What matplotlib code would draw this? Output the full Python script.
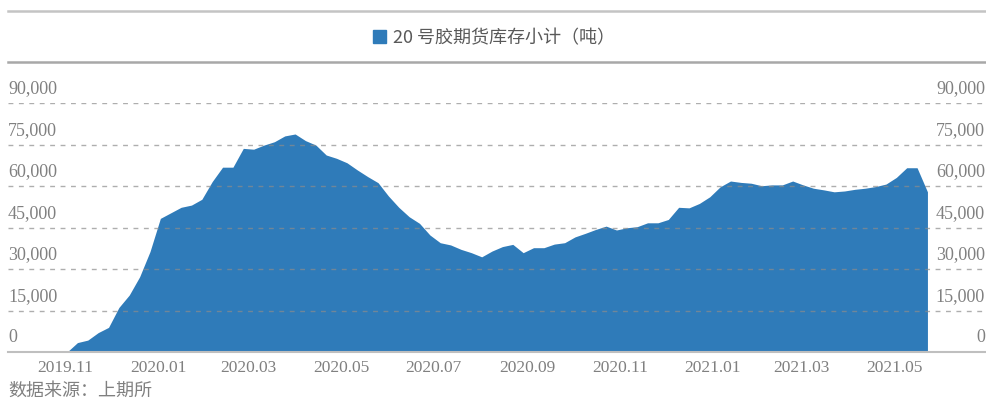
import matplotlib
matplotlib.use("Agg")
import matplotlib.pyplot as plt
import matplotlib.transforms as mtransforms
from matplotlib.patches import Patch
from matplotlib.lines import Line2D
import pandas as pd
import numpy as np

# --- data (tonnes) ---
start_date = "2019-11-02"
end_date = "2021-05-23"
stock = [
    0, 3400, 4300, 7000, 8900, 16100, 20600, 27200, 36300, 48300,
    50300, 52300, 53100, 55200, 61600, 66800, 66800, 73600, 73300, 74800,
    76000, 78100, 78800, 76400, 74800, 71200, 70000, 68400, 65800, 63400,
    61200, 56400, 52300, 48900, 46500, 42300, 39500, 38700, 37100, 35900,
    34400, 36500, 38100, 38900, 35900, 37700, 37700, 39000, 39500, 41600,
    42900, 44300, 45500, 44100, 44900, 45300, 46700, 46700, 47900, 52300,
    52100, 53700, 56100, 59700, 61800, 61300, 61000, 60100, 60400, 60400,
    61800, 60400, 59200, 58600, 57900, 58200, 58800, 59200, 59800, 60700,
    63100, 66600, 66600, 57900,
]
dates = pd.date_range(start_date, end_date, periods=len(stock))

yticks = [0, 15000, 30000, 45000, 60000, 75000, 90000]
xtick_dates = pd.to_datetime(["2019-11-01", "2020-01-01", "2020-03-01", "2020-05-01",
                              "2020-07-01", "2020-09-01", "2020-11-01", "2021-01-01",
                              "2021-03-01", "2021-05-01"])
xtick_labels = [d.strftime("%Y.%m") for d in xtick_dates]

legend_label = "20 号胶期货库存小计（吨）"
source_text = "数据来源：上期所"

blue = "#2f7bb9"
grey_text = "#808080"
cjk = ["Noto Sans CJK SC", "DejaVu Sans"]
serif = ["Liberation Serif", "DejaVu Serif"]

W, H = 987, 401
fig = plt.figure(figsize=(W / 100, H / 100), dpi=100)
ax = fig.add_axes([8 / W, 49 / H, (985 - 8) / W, (352 - 103) / H])

ax.fill_between(dates, 0, stock, color=blue, linewidth=0, zorder=2)

ax.set_ylim(0, 90000)
ax.set_xlim(pd.Timestamp("2019-09-24"), pd.Timestamp("2021-06-30"))

# dashed grid drawn over the area
for v in yticks[1:]:
    ax.axhline(v, color="#8c8c8c", lw=1.0, ls=(0, (3.5, 4)), alpha=0.7, zorder=3)

for s in ["top", "left", "right"]:
    ax.spines[s].set_visible(False)
ax.spines["bottom"].set_color("#bfbfbf")
ax.spines["bottom"].set_linewidth(1.5)
ax.spines["bottom"].set_zorder(4)

ax.set_yticks([])
ax.set_xticks(xtick_dates)
ax.set_xticklabels(xtick_labels, fontsize=12.5, color=grey_text, family=serif)
ax.tick_params(axis="x", length=0, pad=6)

# y labels sit above their gridlines, on both sides
lbl_tr = mtransforms.offset_copy(ax.get_yaxis_transform(), fig=fig, x=0, y=14, units="dots")
for v in yticks:
    ax.text(0, v, f"{v:,}", transform=lbl_tr, ha="left", va="center",
            fontsize=13, color=grey_text, family=serif, clip_on=False)
    ax.text(1.0, v, f"{v:,}", transform=lbl_tr, ha="right", va="center",
            fontsize=13, color=grey_text, family=serif, clip_on=False)

# header rules and legend
for yy, col in [(11, "#c4c4c4"), (62, "#a8a8a8")]:
    fig.add_artist(Line2D([8 / W, 985 / W], [1 - yy / H] * 2, transform=fig.transFigure,
                          color=col, lw=1.8))

fig.legend(handles=[Patch(color=blue, label=legend_label)], loc="center",
           bbox_to_anchor=(494 / W, 1 - 38 / H), frameon=False,
           prop={"family": cjk, "size": 13}, labelcolor="#595959",
           handlelength=0.75, handleheight=0.75, handletextpad=0.4)

fig.text(8 / W, 1 - 391 / H, source_text, ha="left", va="center",
         fontsize=13, color=grey_text, family=cjk)

fig.savefig("out.png", dpi=100)
